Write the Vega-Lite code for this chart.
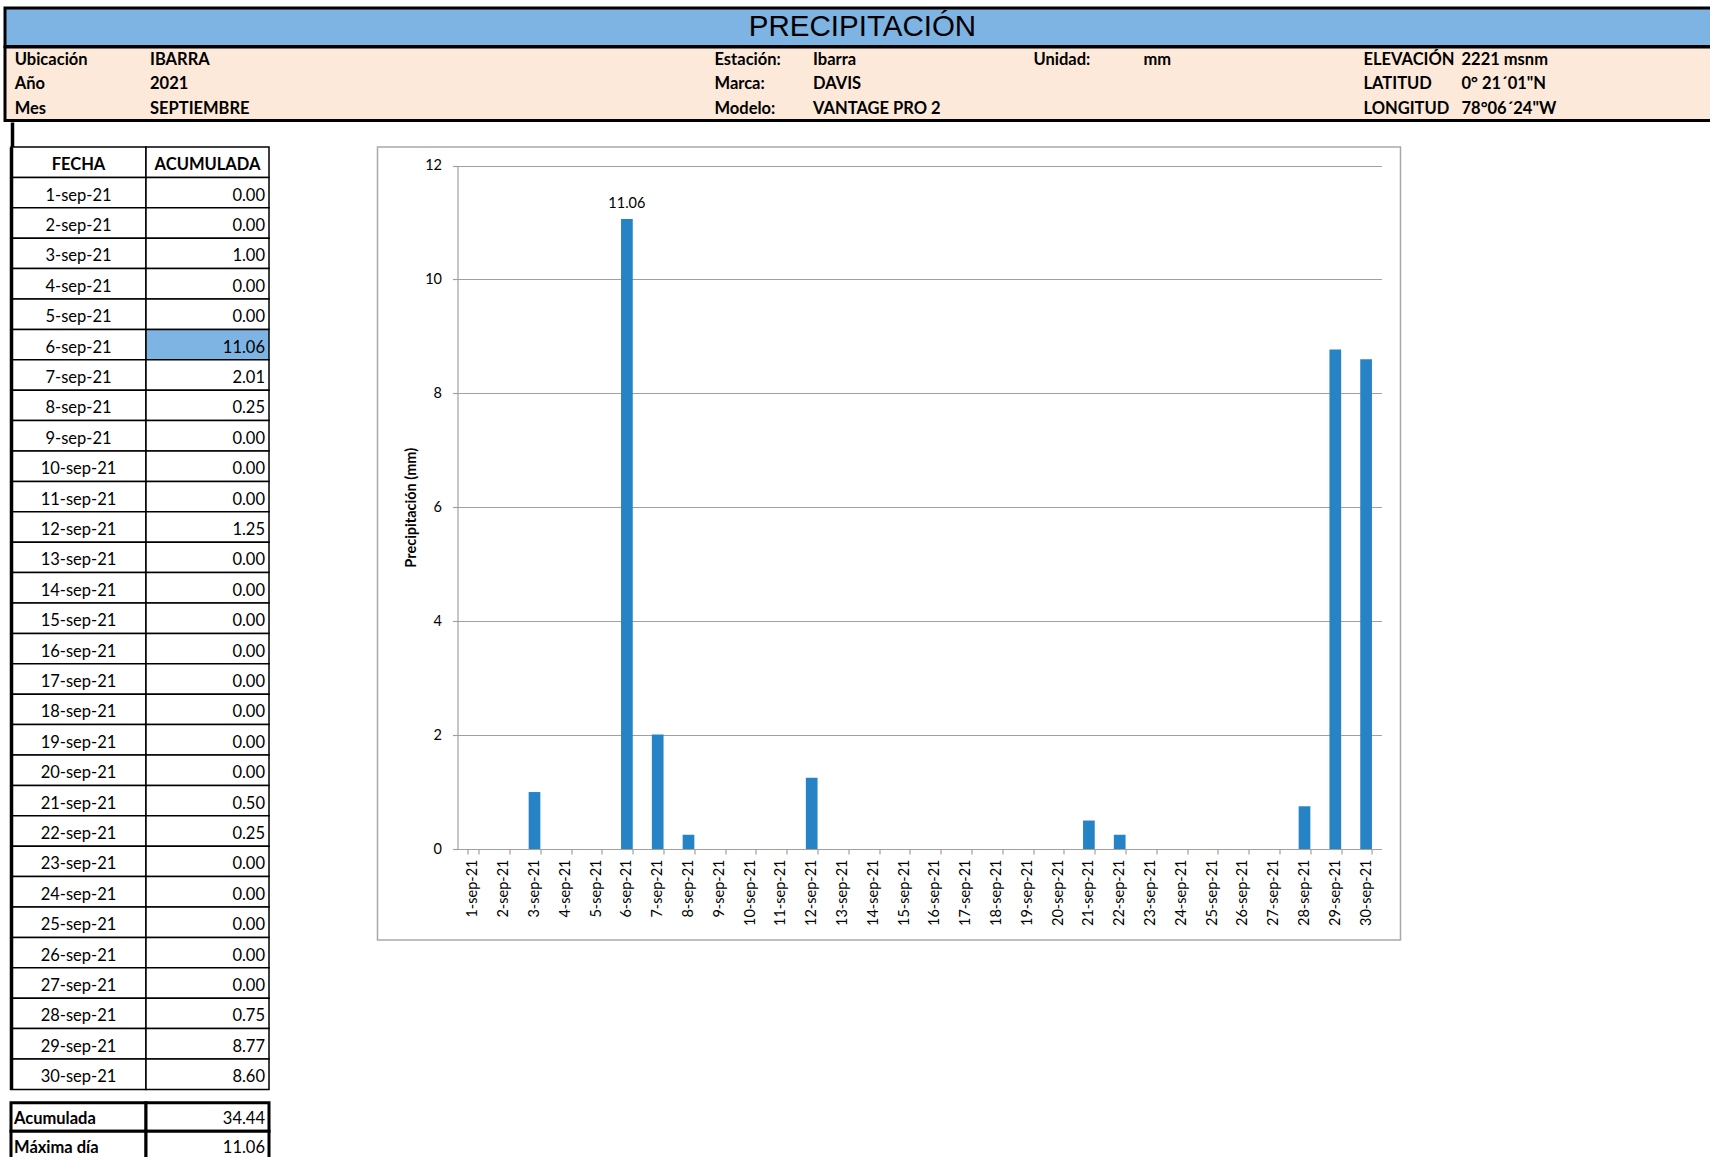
{
  "$schema": "https://vega.github.io/schema/vega-lite/v6.json",
  "padding": {"left": 3, "top": 6, "right": -4, "bottom": -3},
  "background": "white",
  "config": {"font": "Lato", "view": {"stroke": null}},
  "datasets": {
    "dias": [
      {"fecha": "1-sep-21", "dia": 1, "precip": 0.00},
      {"fecha": "2-sep-21", "dia": 2, "precip": 0.00},
      {"fecha": "3-sep-21", "dia": 3, "precip": 1.00},
      {"fecha": "4-sep-21", "dia": 4, "precip": 0.00},
      {"fecha": "5-sep-21", "dia": 5, "precip": 0.00},
      {"fecha": "6-sep-21", "dia": 6, "precip": 11.06},
      {"fecha": "7-sep-21", "dia": 7, "precip": 2.01},
      {"fecha": "8-sep-21", "dia": 8, "precip": 0.25},
      {"fecha": "9-sep-21", "dia": 9, "precip": 0.00},
      {"fecha": "10-sep-21", "dia": 10, "precip": 0.00},
      {"fecha": "11-sep-21", "dia": 11, "precip": 0.00},
      {"fecha": "12-sep-21", "dia": 12, "precip": 1.25},
      {"fecha": "13-sep-21", "dia": 13, "precip": 0.00},
      {"fecha": "14-sep-21", "dia": 14, "precip": 0.00},
      {"fecha": "15-sep-21", "dia": 15, "precip": 0.00},
      {"fecha": "16-sep-21", "dia": 16, "precip": 0.00},
      {"fecha": "17-sep-21", "dia": 17, "precip": 0.00},
      {"fecha": "18-sep-21", "dia": 18, "precip": 0.00},
      {"fecha": "19-sep-21", "dia": 19, "precip": 0.00},
      {"fecha": "20-sep-21", "dia": 20, "precip": 0.00},
      {"fecha": "21-sep-21", "dia": 21, "precip": 0.50},
      {"fecha": "22-sep-21", "dia": 22, "precip": 0.25},
      {"fecha": "23-sep-21", "dia": 23, "precip": 0.00},
      {"fecha": "24-sep-21", "dia": 24, "precip": 0.00},
      {"fecha": "25-sep-21", "dia": 25, "precip": 0.00},
      {"fecha": "26-sep-21", "dia": 26, "precip": 0.00},
      {"fecha": "27-sep-21", "dia": 27, "precip": 0.00},
      {"fecha": "28-sep-21", "dia": 28, "precip": 0.75},
      {"fecha": "29-sep-21", "dia": 29, "precip": 8.77},
      {"fecha": "30-sep-21", "dia": 30, "precip": 8.60}
    ],
    "cabecera": [
      {"columna": 1, "fila": 1, "texto": "Ubicación"},
      {"columna": 2, "fila": 1, "texto": "IBARRA"},
      {"columna": 1, "fila": 2, "texto": "Año"},
      {"columna": 2, "fila": 2, "texto": "2021"},
      {"columna": 1, "fila": 3, "texto": "Mes"},
      {"columna": 2, "fila": 3, "texto": "SEPTIEMBRE"},
      {"columna": 3, "fila": 1, "texto": "Estación:"},
      {"columna": 4, "fila": 1, "texto": "Ibarra"},
      {"columna": 3, "fila": 2, "texto": "Marca:"},
      {"columna": 4, "fila": 2, "texto": "DAVIS"},
      {"columna": 3, "fila": 3, "texto": "Modelo:"},
      {"columna": 4, "fila": 3, "texto": "VANTAGE PRO 2"},
      {"columna": 5, "fila": 1, "texto": "Unidad:"},
      {"columna": 6, "fila": 1, "texto": "mm"},
      {"columna": 7, "fila": 1, "texto": "ELEVACIÓN"},
      {"columna": 8, "fila": 1, "texto": "2221 msnm"},
      {"columna": 7, "fila": 2, "texto": "LATITUD"},
      {"columna": 8, "fila": 2, "texto": "0° 21´01\"N"},
      {"columna": 7, "fila": 3, "texto": "LONGITUD"},
      {"columna": 8, "fila": 3, "texto": "78°06´24\"W"}
    ]
  },
  "spacing": 0,
  "vconcat": [
    {
      "bounds": "flush",
      "spacing": 0,
      "vconcat": [
        {
          "width": 1708,
          "height": 38.5,
          "view": {"fill": "#7DB4E3", "stroke": "black", "strokeWidth": 3},
          "data": {"values": [{"titulo": "PRECIPITACIÓN"}]},
          "mark": {"type": "text", "font": "Liberation Sans", "fontSize": 29.5, "color": "black", "baseline": "middle", "dx": 3.5, "dy": 0},
          "encoding": {"text": {"field": "titulo", "type": "nominal"}}
        },
        {
          "width": 1708,
          "height": 73.5,
          "view": {"fill": "#FDE9D9", "stroke": "black", "strokeWidth": 3},
          "data": {"name": "cabecera"},
          "mark": {"type": "text", "align": "left", "baseline": "middle", "font": "Lato", "fontSize": 16.5, "fontWeight": "bold", "color": "black", "dy": 0.5},
          "encoding": {
            "x": {"field": "columna", "type": "quantitative", "axis": null,
                  "scale": {"domain": [1, 2, 3, 4, 5, 6, 7, 8], "range": [9.7, 145, 709.5, 808, 1028.5, 1138.5, 1358.5, 1456.5], "zero": false, "nice": false}},
            "y": {"field": "fila", "type": "ordinal", "axis": null, "scale": {"paddingInner": 0, "paddingOuter": 0}},
            "text": {"field": "texto", "type": "nominal"}
          }
        }
      ]
    },
    {
      "bounds": "flush",
      "spacing": 0,
      "hconcat": [
        {
          "width": 5.5,
          "height": 1,
          "data": {"values": [{"borde": "izquierdo"}]},
          "mark": {"type": "rect", "opacity": 0},
          "encoding": {
            "y": {"field": "borde", "type": "nominal", "scale": {"range": [-25, 0]},
                  "axis": {"orient": "right", "offset": 1.5, "domain": true, "domainColor": "black", "domainWidth": 3.5, "ticks": false, "labels": false, "grid": false, "title": null}}
          }
        },
        {
          "spacing": 97.5,
          "hconcat": [
            {
              "spacing": 9.85,
              "vconcat": [
                {
                  "bounds": "flush",
                  "spacing": 0,
                  "hconcat": [
                    {
                      "width": 135,
                      "height": 942.4,
                      "encoding": {
                        "y": {"field": "fecha", "type": "nominal",
                              "scale": {"domain": ["FECHA", "1-sep-21", "2-sep-21", "3-sep-21", "4-sep-21", "5-sep-21", "6-sep-21", "7-sep-21", "8-sep-21", "9-sep-21", "10-sep-21", "11-sep-21", "12-sep-21", "13-sep-21", "14-sep-21", "15-sep-21", "16-sep-21", "17-sep-21", "18-sep-21", "19-sep-21", "20-sep-21", "21-sep-21", "22-sep-21", "23-sep-21", "24-sep-21", "25-sep-21", "26-sep-21", "27-sep-21", "28-sep-21", "29-sep-21", "30-sep-21"], "paddingInner": 0, "paddingOuter": 0},
                              "axis": {"domain": true, "domainColor": "black", "domainWidth": 3.5, "ticks": false, "labels": false, "grid": false, "title": null, "minExtent": 0, "maxExtent": 0}}
                      },
                      "layer": [
                        {
                          "data": {"values": [{"fecha": "FECHA", "titulo": "FECHA"}]},
                          "mark": {"type": "rect", "fill": "white", "stroke": "black", "strokeWidth": 1.5}
                        },
                        {
                          "data": {"values": [{"fecha": "FECHA", "titulo": "FECHA"}]},
                          "mark": {"type": "text", "font": "Lato", "fontSize": 16.5, "fontWeight": "bold", "color": "black", "baseline": "middle", "dy": 3},
                          "encoding": {"text": {"field": "titulo", "type": "nominal"}}
                        },
                        {
                          "data": {"name": "dias"},
                          "mark": {"type": "rect", "fill": "white", "stroke": "black", "strokeWidth": 1.5}
                        },
                        {
                          "data": {"name": "dias"},
                          "mark": {"type": "text", "font": "Lato", "fontSize": 16.5, "color": "black", "baseline": "middle", "dy": 3},
                          "encoding": {"text": {"field": "fecha", "type": "nominal"}}
                        }
                      ]
                    },
                    {
                      "width": 123,
                      "height": 942.4,
                      "encoding": {
                        "y": {"field": "fecha", "type": "nominal",
                              "scale": {"domain": ["FECHA", "1-sep-21", "2-sep-21", "3-sep-21", "4-sep-21", "5-sep-21", "6-sep-21", "7-sep-21", "8-sep-21", "9-sep-21", "10-sep-21", "11-sep-21", "12-sep-21", "13-sep-21", "14-sep-21", "15-sep-21", "16-sep-21", "17-sep-21", "18-sep-21", "19-sep-21", "20-sep-21", "21-sep-21", "22-sep-21", "23-sep-21", "24-sep-21", "25-sep-21", "26-sep-21", "27-sep-21", "28-sep-21", "29-sep-21", "30-sep-21"], "paddingInner": 0, "paddingOuter": 0},
                              "axis": null}
                      },
                      "layer": [
                        {
                          "data": {"values": [{"fecha": "FECHA", "titulo": "ACUMULADA"}]},
                          "mark": {"type": "rect", "fill": "white", "stroke": "black", "strokeWidth": 1.5}
                        },
                        {
                          "data": {"values": [{"fecha": "FECHA", "titulo": "ACUMULADA"}]},
                          "mark": {"type": "text", "font": "Lato", "fontSize": 16.5, "fontWeight": "bold", "color": "black", "baseline": "middle", "dy": 3},
                          "encoding": {"text": {"field": "titulo", "type": "nominal"}}
                        },
                        {
                          "data": {"name": "dias"},
                          "transform": [{"joinaggregate": [{"op": "max", "field": "precip", "as": "maximo"}]}],
                          "mark": {"type": "rect", "stroke": "black", "strokeWidth": 1.5},
                          "encoding": {"fill": {"condition": {"test": "datum.precip == datum.maximo", "value": "#7DB4E3"}, "value": "white"}}
                        },
                        {
                          "data": {"name": "dias"},
                          "mark": {"type": "text", "font": "Lato", "fontSize": 16.5, "color": "black", "baseline": "middle", "align": "right", "dx": 57.5, "dy": 3},
                          "encoding": {"text": {"field": "precip", "type": "quantitative", "format": ".2f"}}
                        }
                      ]
                    }
                  ]
                },
                {
                  "bounds": "flush",
                  "spacing": 0,
                  "hconcat": [
                    {
                      "width": 135,
                      "height": 57,
                      "data": {"name": "dias"},
                      "transform": [
                        {"aggregate": [{"op": "sum", "field": "precip", "as": "Acumulada"}, {"op": "max", "field": "precip", "as": "Máxima día"}]},
                        {"fold": ["Acumulada", "Máxima día"], "as": ["resumen", "valor"]}
                      ],
                      "encoding": {
                        "y": {"field": "resumen", "type": "nominal", "axis": null,
                              "scale": {"domain": ["Acumulada", "Máxima día"], "paddingInner": 0, "paddingOuter": 0}}
                      },
                      "layer": [
                        {"mark": {"type": "rect", "fill": "white", "stroke": "black", "strokeWidth": 3}},
                        {"mark": {"type": "text", "font": "Lato", "fontSize": 16.5, "fontWeight": "bold", "color": "black", "baseline": "middle", "align": "left", "dx": -64.5, "dy": 2},
                         "encoding": {"text": {"field": "resumen", "type": "nominal"}}}
                      ]
                    },
                    {
                      "width": 123,
                      "height": 57,
                      "data": {"name": "dias"},
                      "transform": [
                        {"aggregate": [{"op": "sum", "field": "precip", "as": "Acumulada"}, {"op": "max", "field": "precip", "as": "Máxima día"}]},
                        {"fold": ["Acumulada", "Máxima día"], "as": ["resumen", "valor"]}
                      ],
                      "encoding": {
                        "y": {"field": "resumen", "type": "nominal", "axis": null,
                              "scale": {"domain": ["Acumulada", "Máxima día"], "paddingInner": 0, "paddingOuter": 0}}
                      },
                      "layer": [
                        {"mark": {"type": "rect", "fill": "white", "stroke": "black", "strokeWidth": 3}},
                        {"mark": {"type": "text", "font": "Lato", "fontSize": 16.5, "color": "black", "baseline": "middle", "align": "right", "dx": 57.5, "dy": 2},
                         "encoding": {"text": {"field": "valor", "type": "quantitative", "format": ".2f"}}}
                      ]
                    }
                  ]
                }
              ]
            },
            {
              "width": 1023,
              "height": 793,
              "view": {"stroke": "#A9A9A9", "strokeWidth": 1.5},
              "data": {"name": "dias"},
              "encoding": {
                "x": {"field": "fecha", "type": "nominal", "sort": null,
                      "scale": {"range": [80, 1004], "paddingInner": 0.62, "paddingOuter": 0.31},
                      "axis": {"orient": "bottom", "offset": -91, "tickBand": "extent", "labelAngle": -90, "labelFont": "Lato", "labelFontSize": 14.5, "labelColor": "black", "labelPadding": 5, "tickSize": 5, "tickColor": "#A0A0A0", "tickWidth": 1.2, "domainColor": "#A0A0A0", "domainWidth": 1.2, "title": null, "grid": false, "labelOverlap": false, "labelBound": false}},
                "y": {"field": "precip", "type": "quantitative",
                      "scale": {"domain": [0, 12], "range": [702, 18.5], "nice": false, "zero": true},
                      "axis": {"orient": "left", "offset": -80, "values": [0, 2, 4, 6, 8, 10, 12], "grid": true, "gridColor": "#A0A0A0", "gridWidth": 1.2, "domainColor": "#A0A0A0", "domainWidth": 1.2, "tickColor": "#A0A0A0", "tickWidth": 1.2, "tickSize": 5, "labelFont": "Lato", "labelFontSize": 14.5, "labelColor": "black", "labelPadding": 11, "title": "Precipitación (mm)", "titleFont": "Lato", "titleFontSize": 14.5, "titleFontWeight": "bold", "titleColor": "black", "titlePadding": 6}}
              },
              "layer": [
                {"mark": {"type": "bar", "color": "#2683C6"}},
                {
                  "transform": [{"joinaggregate": [{"op": "max", "field": "precip", "as": "maximo"}]}, {"filter": "datum.precip == datum.maximo"}],
                  "mark": {"type": "text", "baseline": "bottom", "dy": -8, "font": "Lato", "fontSize": 14.5, "color": "black"},
                  "encoding": {"text": {"field": "precip", "type": "quantitative", "format": ".2f"}}
                }
              ]
            }
          ]
        }
      ]
    }
  ]
}
